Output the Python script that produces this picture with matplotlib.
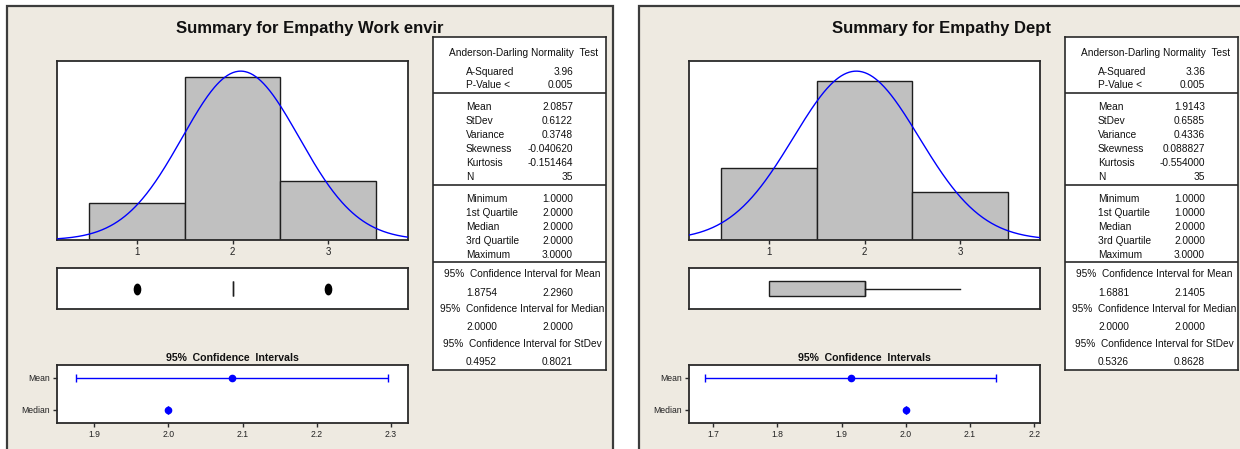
import numpy as np
import matplotlib
matplotlib.use("Agg")
import matplotlib.pyplot as plt
from matplotlib import font_manager
from matplotlib.patches import Rectangle
from matplotlib.path import Path

# ---------------------------------------------------------------- data
score_levels = [1, 2, 3]

work_title = "Summary for Empathy Work envir"
work_counts = [5, 22, 8]
work_ad = [3.96, 0.005]                       # A-Squared, P-Value <
work_moments = [2.0857, 0.6122, 0.3748, -0.040620, -0.151464]
work_n = 35
work_five_number = [1.0, 2.0, 2.0, 2.0, 3.0]  # min, Q1, median, Q3, max
work_ci_mean = [1.8754, 2.2960]
work_ci_median = [2.0000, 2.0000]
work_ci_stdev = [0.4952, 0.8021]
work_ci_ticks = [1.9, 2.0, 2.1, 2.2, 2.3]

dept_title = "Summary for Empathy Dept"
dept_counts = [9, 20, 6]
dept_ad = [3.36, 0.005]
dept_moments = [1.9143, 0.6585, 0.4336, 0.088827, -0.554000]
dept_n = 35
dept_five_number = [1.0, 1.0, 2.0, 2.0, 3.0]
dept_ci_mean = [1.6881, 2.1405]
dept_ci_median = [2.0000, 2.0000]
dept_ci_stdev = [0.5326, 0.8628]
dept_ci_ticks = [1.7, 1.8, 1.9, 2.0, 2.1, 2.2]

# ---------------------------------------------------------------- style
W, H, DPI = 1240, 449, 100
PANEL_BG = "#EEEAE1"
FRAME = "#2a2a2a"
BAR_FILL = "#C0C0C0"
BLUE = "#0000FF"


def pick_font(*names):
    avail = {f.name for f in font_manager.fontManager.ttflist}
    for n in names:
        if n in avail:
            return n
    return "DejaVu Sans"


NARROW = pick_font("Liberation Sans Narrow", "Liberation Sans", "Arial")
REGULAR = pick_font("Liberation Sans", "Arial", "DejaVu Sans")

fig = plt.figure(figsize=(W / DPI, H / DPI), dpi=DPI)
fig.patch.set_facecolor("white")


def px_axes(x0, y0, x1, y1, **kw):
    return fig.add_axes([x0 / W, 1 - y1 / H, (x1 - x0) / W, (y1 - y0) / H], **kw)


def frame(ax, lw=1.3):
    for s in ax.spines.values():
        s.set_color(FRAME)
        s.set_linewidth(lw)


# ellipse used for the stacked outlier symbols
_circ = Path.unit_circle()
blob = Path(_circ.vertices * np.array([0.6, 1.0]), _circ.codes)


def draw_table(ax, ad, moments, n, five, ci_mean, ci_median, ci_stdev):
    ax.set_xlim(0, 173)
    ax.set_ylim(334, 0)
    ax.set_xticks([])
    ax.set_yticks([])
    ax.set_facecolor("white")
    frame(ax, 1.2)
    kw = dict(fontsize=7.3, family=REGULAR, color="#111111", va="center")
    lx, rx, cx = 33, 140, 89

    def row(y, label, value):
        ax.text(lx, y, label, ha="left", **kw)
        ax.text(rx, y, value, ha="right", **kw)

    ax.text(cx + 2, 16.3, "Anderson-Darling Normality  Test", ha="center", **kw)
    row(34.7, "A-Squared", f"{ad[0]:.2f}")
    row(48.5, "P-Value <", f"{ad[1]:.3f}")

    names = ["Mean", "StDev", "Variance", "Skewness", "Kurtosis"]
    fmts = ["{:.4f}", "{:.4f}", "{:.4f}", "{:.6f}", "{:.6f}"]
    for i, (nm, f, v) in enumerate(zip(names, fmts, moments)):
        row(70.3 + 14.1 * i, nm, f.format(v))
    row(140.8, "N", f"{n}")

    qnames = ["Minimum", "1st Quartile", "Median", "3rd Quartile", "Maximum"]
    for i, (nm, v) in enumerate(zip(qnames, five)):
        row(162.3 + 14.2 * i, nm, f"{v:.4f}")

    for y in (56, 148, 225.3):
        ax.axhline(y, color=FRAME, lw=1.2)

    blocks = [("Mean", ci_mean), ("Median", ci_median), ("StDev", ci_stdev)]
    for i, (nm, (lo, hi)) in enumerate(blocks):
        y0 = 238 + 35 * i
        ax.text(cx, y0, f"95%  Confidence Interval for {nm}", ha="center", **kw)
        row(y0 + 18.3, f"{lo:.4f}", f"{hi:.4f}")


def draw_panel(dx, title, counts, ad, moments, n, five, ci_mean, ci_median,
               ci_stdev, ci_ticks, ci_xlim):
    # panel background with border
    fig.patches.append(Rectangle(((7 + dx) / W, -0.1), 606 / W, 1 - 6 / H + 0.1,
                                 transform=fig.transFigure, facecolor=PANEL_BG,
                                 edgecolor="#3c3c3c", lw=1.6, zorder=-10))
    fig.text((310 + dx) / W, 1 - 28 / H, title, ha="center", va="center",
             fontsize=12, fontweight="bold", family=NARROW, color="#111111")

    mean, sd = moments[0], moments[1]

    # histogram with fitted normal curve
    ax = px_axes(57 + dx, 61, 408 + dx, 240)
    ax.bar(score_levels, counts, width=1.0, color=BAR_FILL,
           edgecolor="#1e1e1e", linewidth=1.0, zorder=2)
    xlo, xhi = 0.163, 3.837
    xs = np.linspace(xlo, xhi, 400)
    pdf = n * 1.0 * np.exp(-0.5 * ((xs - mean) / sd) ** 2) / (sd * np.sqrt(2 * np.pi))
    ax.plot(xs, pdf, color=BLUE, lw=1.0, zorder=3)
    ax.set_xlim(xlo, xhi)
    ax.set_ylim(0, max(pdf.max(), max(counts)) * 1.06)
    ax.set_xticks(score_levels)
    ax.set_xticklabels([str(v) for v in score_levels])
    ax.set_yticks([])
    ax.tick_params(axis="x", length=3, width=1, pad=2, labelsize=7,
                   color=FRAME, labelcolor="#222222")
    for lab in ax.get_xticklabels():
        lab.set_family(NARROW)
    frame(ax)

    # box plot
    bx = px_axes(57 + dx, 268, 408 + dx, 309)
    mn, q1, med, q3, mx = five
    iqr = q3 - q1
    present = [v for v, c in zip(score_levels, counts) if c > 0]
    inside = [v for v in present if q1 - 1.5 * iqr <= v <= q3 + 1.5 * iqr]
    fliers = [v for v in present if v not in inside]
    stats = [dict(med=med, q1=q1, q3=q3, whislo=min(inside), whishi=max(inside),
                  fliers=fliers)]
    bx.bxp(stats, positions=[0.5], widths=0.37, orientation="horizontal",
           patch_artist=True, showcaps=False,
           boxprops=dict(facecolor=BAR_FILL, edgecolor="#1e1e1e", linewidth=1.0),
           medianprops=dict(color="#1e1e1e", linewidth=1.0),
           whiskerprops=dict(color="#1e1e1e", linewidth=1.0),
           flierprops=dict(marker=blob, markersize=7.5, markerfacecolor="black",
                           markeredgecolor="black"))
    bx.set_xlim(xlo, xhi)
    bx.set_ylim(0, 1)
    bx.set_xticks([])
    bx.set_yticks([])
    frame(bx)

    # confidence interval plot
    cx = px_axes(57 + dx, 365, 408 + dx, 423)
    cx.set_facecolor("white")
    for y, (lo, hi), c in ((1, ci_mean, mean), (0, ci_median, med)):
        cx.errorbar([c], [y], xerr=[[c - lo], [hi - c]], fmt="o", color=BLUE,
                    ms=4.5, lw=1.0, capsize=3.2, capthick=1.0)
    cx.set_xlim(*ci_xlim)
    cx.set_ylim(-0.42, 1.4)
    cx.set_xticks(ci_ticks)
    cx.set_xticklabels([f"{t:.1f}" for t in ci_ticks])
    cx.set_yticks([1, 0])
    cx.set_yticklabels(["Mean", "Median"])
    cx.tick_params(length=3, width=1, pad=2, labelsize=6.2, color=FRAME,
                   labelcolor="#222222")
    for lab in cx.get_xticklabels() + cx.get_yticklabels():
        lab.set_family(NARROW)
    frame(cx)
    cx.set_title("95%  Confidence  Intervals", fontsize=7.6, fontweight="bold",
                 family=REGULAR, pad=3, color="#111111")

    # summary statistics table
    tx = px_axes(433 + dx, 37, 606 + dx, 370)
    draw_table(tx, ad, moments, n, five, ci_mean, ci_median, ci_stdev)


draw_panel(0, work_title, work_counts, work_ad, work_moments, work_n,
           work_five_number, work_ci_mean, work_ci_median, work_ci_stdev,
           work_ci_ticks, (1.850, 2.323))
draw_panel(632, dept_title, dept_counts, dept_ad, dept_moments, dept_n,
           dept_five_number, dept_ci_mean, dept_ci_median, dept_ci_stdev,
           dept_ci_ticks, (1.6626, 2.209))

fig.savefig("out.png", dpi=DPI, facecolor="white")
